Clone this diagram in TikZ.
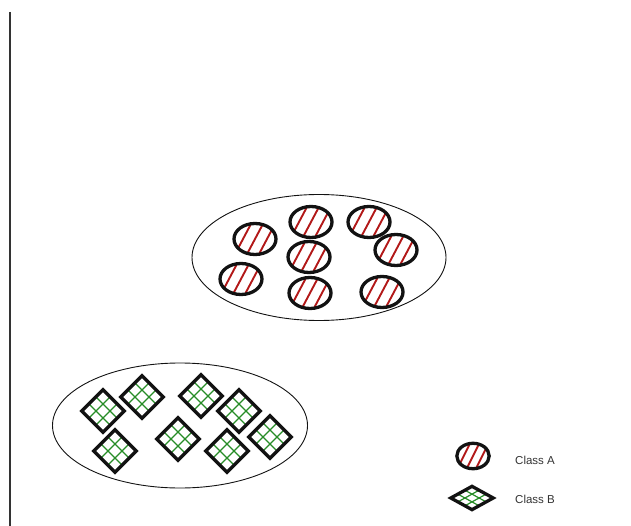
\documentclass[tikz,border=0pt]{standalone}
\usepackage{fontspec}
\setmainfont{Liberation Sans}
\usetikzlibrary{shapes.geometric}

\definecolor{hatchred}{RGB}{178,24,24}
\definecolor{gridgreen}{RGB}{38,140,38}
\definecolor{ink}{RGB}{18,18,18}
\definecolor{labelgray}{RGB}{51,51,51}

\tikzset{
  group/.style={draw=ink, line width=0.9pt, ellipse, inner sep=0pt},
  sketchline/.style={draw=ink, line width=3.3pt},
  stripe/.style={draw=hatchred, line width=1.9pt},
  mesh/.style={draw=gridgreen, line width=1.2pt},
  axisline/.style={draw=labelgray, line width=1.4pt},
  legendtext/.style={font=\fontsize{11.5}{13}\selectfont, text=labelgray, anchor=west, inner sep=0pt},
  % a striped, hand-drawn looking disc
  classA/.pic={
    \begin{scope}
      \clip (0,0) ellipse [x radius=21, y radius=15.5];
      \foreach \d in {-12,0,12}
        \draw[stripe] (\d-9,17) -- (\d+9,-17);
    \end{scope}
    \draw[sketchline] (0,0) ellipse [x radius=21, y radius=15.5];
  },
  % a tilted square filled with a 3x3 mesh
  classB/.pic={
    \begin{scope}[rotate=45]
      \foreach \d in {-5,5}{
        \draw[mesh] (\d,-15) -- (\d,15);
        \draw[mesh] (-15,\d) -- (15,\d);
      }
      \draw[sketchline, line join=miter] (-15,-15) rectangle (15,15);
    \end{scope}
  },
}

\begin{document}
\begin{tikzpicture}[x=1pt, y=-1pt]
  \useasboundingbox (0,0) rectangle (631,526);

  % vertical rule on the left
  \coordinate (ruletop) at (10,12);
  \coordinate (rulebottom) at (10,526);
  \draw[axisline] (ruletop) -- (rulebottom);

  % cluster outlines
  \node[group, minimum width=254pt, minimum height=126pt] (groupA) at (319,257.5) {};
  \node[group, minimum width=255pt, minimum height=125pt] (groupB) at (180,425.5) {};

  % class A members
  \pic (a1) at (255,239) {classA};
  \pic (a2) at (311,222) {classA};
  \pic (a3) at (309,257) {classA};
  \pic (a4) at (310,293) {classA};
  \pic (a5) at (241,279) {classA};
  \pic (a6) at (369,222) {classA};
  \pic (a7) at (396,250) {classA};
  \pic (a8) at (382,292) {classA};

  % class B members
  \pic (b1) at (103,411) {classB};
  \pic (b2) at (142,397) {classB};
  \pic (b3) at (201,396) {classB};
  \pic (b4) at (239,411) {classB};
  \pic (b5) at (115,451) {classB};
  \pic (b6) at (178,439) {classB};
  \pic (b7) at (227,451) {classB};
  \pic (b8) at (270,437) {classB};

  % legend
  \pic[xscale=0.77, yscale=0.82] (legA) at (473,456) {classA};
  \pic[yscale=0.55] (legB) at (472,498) {classB};
  \node[legendtext] (labA) at (515,460) {Class A};
  \node[legendtext] (labB) at (515,499) {Class B};
\end{tikzpicture}
\end{document}
